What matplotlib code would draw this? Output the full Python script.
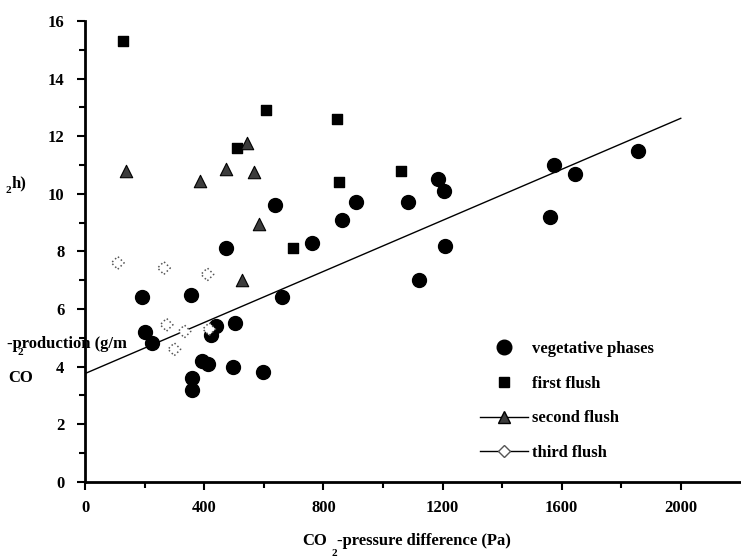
import matplotlib
matplotlib.use('Agg')
import matplotlib.pyplot as plt
from matplotlib.lines import Line2D

# CO2 pressure difference (Pa) vs CO2 production (g/m2h)
veg_x = [191, 355, 637, 471, 763, 660, 200, 223, 438, 422, 503, 391, 413, 495, 596, 357, 357,
         861, 909, 1186, 1206, 1085, 1574, 1644, 1855, 1561, 1209, 1121]
veg_y = [6.4, 6.5, 9.6, 8.1, 8.3, 6.4, 5.2, 4.8, 5.4, 5.1, 5.5, 4.2, 4.1, 4.0, 3.8, 3.6, 3.2,
         9.1, 9.7, 10.5, 10.1, 9.7, 11.0, 10.7, 11.5, 9.2, 8.2, 7.0]

first_x = [128, 606, 508, 847, 853, 699, 1059]
first_y = [15.3, 12.9, 11.6, 12.6, 10.4, 8.1, 10.8]

second_x = [137, 385, 471, 542, 567, 583, 525]
second_y = [10.8, 10.45, 10.85, 11.75, 10.75, 8.95, 7.0]

third_x = [109, 264, 410, 273, 333, 416, 299]
third_y = [7.6, 7.42, 7.2, 5.45, 5.22, 5.3, 4.6]

# regression line
fit_x = [0, 2000]
intercept = 3.76
slope = 0.00443

W, H = 741, 559
plt.rcParams['font.family'] = ['Liberation Serif', 'DejaVu Serif']
plt.rcParams['font.size'] = 12
plt.rcParams['font.weight'] = 'bold'

fig = plt.figure(figsize=(W / 100, H / 100), dpi=100)
ax = fig.add_axes([85.3 / W, 1 - 481.7 / H, (740.3 - 85.3) / W, (481.7 - 21) / H])

def px(x, y):
    return x / W, 1 - y / H

ax.plot(fit_x, [intercept + slope * v for v in fit_x], color='black', lw=1.0)

ax.scatter(veg_x, veg_y, marker='o', s=100, color='black', zorder=3)
ax.scatter(first_x, first_y, marker='s', s=55, color='black', zorder=3)
ax.scatter(second_x, second_y, marker='^', s=80, facecolor='#3c3c3c',
           edgecolor='black', linewidth=0.8, zorder=3)
ax.scatter(third_x, third_y, marker='D', s=42, facecolor='white',
           edgecolor='#555555', linewidth=1.1, linestyle=':', zorder=3)

ax.set_xlim(0, 2200)
ax.set_ylim(0, 16)
ax.set_xticks([0, 400, 800, 1200, 1600, 2000])
ax.set_xticks([200, 600, 1000, 1400, 1800], minor=True)
ax.set_yticks(range(0, 17, 2))
ax.set_yticks(range(1, 16, 2), minor=True)
ax.tick_params(which='major', direction='out', length=6, width=1.5, labelsize=12)
ax.tick_params(which='minor', direction='out', length=4, width=1.5)
ax.tick_params(axis='x', pad=7)
ax.tick_params(axis='y', pad=9)
for s in ['top', 'right']:
    ax.spines[s].set_visible(False)
for s in ['left', 'bottom']:
    ax.spines[s].set_linewidth(2)

# legend
handles = [
    Line2D([], [], marker='o', ls='none', color='black', markersize=10.5),
    Line2D([], [], marker='s', ls='none', color='black', markersize=7.5),
    Line2D([], [], marker='^', ls='-', lw=1, color='black', markerfacecolor='#3c3c3c',
           markersize=8.5),
    Line2D([], [], marker='D', ls='-', lw=1, color='black', markerfacecolor='white',
           markeredgecolor='#555555', markersize=6.5),
]
labels = ['vegetative phases', 'first flush', 'second flush', 'third flush']
ax.legend(handles, labels, loc='upper left', bbox_to_anchor=px(480, 341),
          bbox_transform=fig.transFigure, frameon=False, borderpad=0,
          borderaxespad=0, handlelength=2.9, handletextpad=0.25,
          labelspacing=1.12, fontsize=12)

# broken y label pieces as in the original
fig.text(*px(12, 187), 'h)', fontsize=12, va='baseline')
fig.text(*px(5, 193), '2', fontsize=8, va='baseline')
fig.text(*px(7, 348), '-production (g/m', fontsize=12, va='baseline')
fig.text(*px(18, 355), '2', fontsize=8, va='baseline')
fig.text(*px(8, 382), 'CO', fontsize=12, va='baseline')

# x label
fig.text(*px(302, 545), 'CO', fontsize=12, va='baseline')
fig.text(*px(332, 556), '2', fontsize=8, va='baseline')
fig.text(*px(337, 545), '-pressure difference (Pa)', fontsize=12, va='baseline')

fig.savefig('out.png', dpi=100)
